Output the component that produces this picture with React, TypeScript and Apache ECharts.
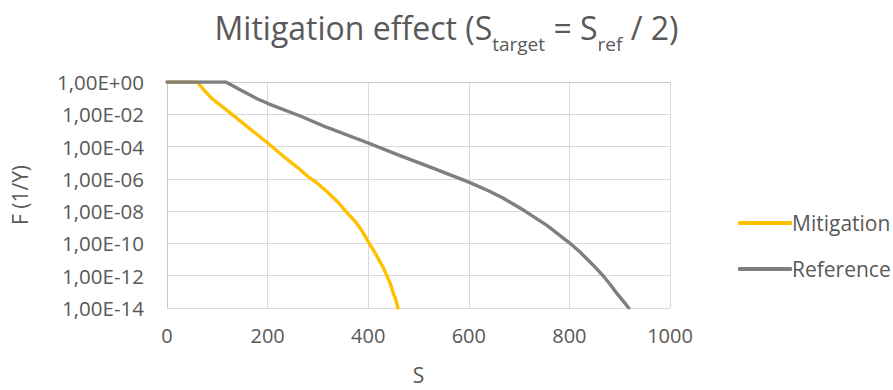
import React, { useEffect, useRef } from "react";
import * as echarts from "echarts";

// Mitigation curve: S values and log10(F)
const mitigationS = [0, 60, 75, 90, 122, 168, 199, 236, 260, 280, 300, 320, 340, 355, 370, 383, 393, 402, 412, 421, 430, 437, 444, 449, 455, 459];
const mitigationLogF = [0, 0, -0.55, -1.05, -1.82, -2.98, -3.75, -4.72, -5.3, -5.85, -6.3, -6.85, -7.45, -8.0, -8.5, -9.0, -9.5, -10.0, -10.5, -11.0, -11.5, -12.0, -12.5, -13.0, -13.5, -14.0];

// Reference curve: S values and log10(F)
const referenceS = [0, 117, 150, 180, 202, 266, 317, 400, 462, 530, 600, 640, 666, 711, 756, 800, 820, 836, 852, 867, 880, 892, 905, 918];
const referenceLogF = [0, 0, -0.55, -1.05, -1.35, -2.12, -2.8, -3.78, -4.55, -5.35, -6.2, -6.75, -7.15, -7.98, -8.9, -9.96, -10.5, -11.0, -11.5, -12.0, -12.5, -13.0, -13.5, -14.0];

const seriesNames = ["Mitigation", "Reference"];
const seriesColors = ["#FFC000", "#7F7F7F"];

const xMin = 0;
const xMax = 1000;
const xInterval = 200;
const yMinExp = -14;
const yMaxExp = 0;
const yIntervalExp = 2;

function formatSci(e: number): string {
  const r = Math.round(e);
  const sign = r < 0 ? "-" : "+";
  const a = Math.abs(r);
  return "1,00E" + sign + (a < 10 ? "0" : "") + a;
}

const FONT = "'Open Sans', sans-serif";
const TXT = "#595959";

export default function App() {
  const ref = useRef<HTMLDivElement>(null);
  useEffect(() => {
    if (!ref.current) return;
    const chart = echarts.init(ref.current, undefined, { renderer: "svg" });
    const mit = mitigationS.map((s, i) => [s, mitigationLogF[i]]);
    const refd = referenceS.map((s, i) => [s, referenceLogF[i]]);
    chart.setOption({
      animation: false,
      backgroundColor: "#ffffff",
      title: {
        text: "{m|Mitigation effect (S}{s|target}{m| = S}{s|ref}{m| / 2)}",
        left: "center",
        top: 3,
        textStyle: {
          fontFamily: FONT,
          fontWeight: "normal",
          rich: {
            m: { fontFamily: FONT, fontWeight: "normal", fontSize: 32, color: TXT, lineHeight: 38 },
            s: { fontFamily: FONT, fontWeight: "normal", fontSize: 19, color: TXT, lineHeight: 19, padding: [33, 0, 0, 0] },
          },
        },
      },
      legend: {
        orient: "vertical",
        left: 733,
        top: 207,
        itemGap: 24,
        itemWidth: 54,
        itemHeight: 4,
        icon: "roundRect",
        textStyle: { fontFamily: FONT, fontSize: 21, color: TXT, lineHeight: 22, padding: [0, 0, 0, -5] },
        data: seriesNames,
      },
      grid: { left: 167, right: 223, top: 82, bottom: 77, containLabel: false },
      xAxis: {
        type: "value",
        min: xMin,
        max: xMax,
        interval: xInterval,
        name: "S",
        nameLocation: "middle",
        nameGap: 56,
        nameTextStyle: { fontFamily: FONT, fontSize: 21, color: TXT },
        axisLine: { show: true, lineStyle: { color: "#C8C8C8", width: 1 } },
        axisTick: { show: false },
        axisLabel: { fontFamily: FONT, fontSize: 20, color: TXT, margin: 17, formatter: (v: number) => String(v) },
        splitLine: { show: true, lineStyle: { color: "#D9D9D9", width: 1 } },
      },
      yAxis: {
        type: "value",
        min: yMinExp,
        max: yMaxExp,
        interval: yIntervalExp,
        name: "F (1/Y)",
        nameLocation: "middle",
        nameGap: 137,
        nameRotate: 90,
        nameTextStyle: { fontFamily: FONT, fontSize: 21, color: TXT },
        axisLine: { show: true, lineStyle: { color: "#C8C8C8", width: 1 } },
        axisTick: { show: false },
        axisLabel: { fontFamily: FONT, fontSize: 20.5, color: TXT, margin: 23, formatter: (v: number) => formatSci(v) },
        splitLine: { show: true, lineStyle: { color: "#D9D9D9", width: 1 } },
      },
      series: [
        {
          name: seriesNames[0],
          type: "line",
          data: mit,
          showSymbol: false,
          symbol: "none",
          color: seriesColors[0],
          lineStyle: { color: seriesColors[0], width: 3.4, cap: "round", join: "round" },
        },
        {
          name: seriesNames[1],
          type: "line",
          data: refd,
          showSymbol: false,
          symbol: "none",
          color: seriesColors[1],
          lineStyle: { color: seriesColors[1], width: 3.4, cap: "round", join: "round" },
        },
      ],
    });
    return () => chart.dispose();
  }, []);
  return <div ref={ref} style={{ position: "absolute", left: 0, top: 0, width: 893, height: 390 }} />;
}
